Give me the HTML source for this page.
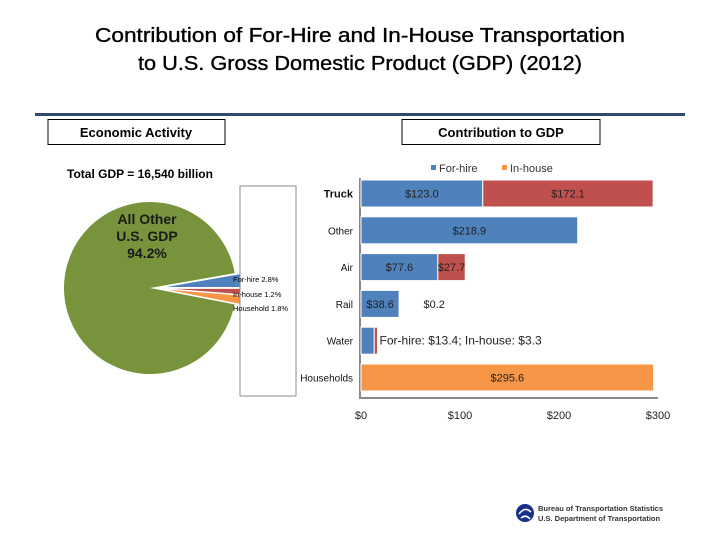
<!DOCTYPE html>
<html><head><meta charset="utf-8"><style>
html,body{margin:0;padding:0;background:#fff;}
svg{display:block;font-family:"Liberation Sans",sans-serif;}
</style></head><body>
<svg id="chart" width="720" height="540" viewBox="0 0 720 540">
  <g stroke="#000" stroke-width="0.35">
    <text x="360" y="42" text-anchor="middle" font-size="20" textLength="530" lengthAdjust="spacingAndGlyphs" fill="#000">Contribution of For-Hire and In-House Transportation</text>
    <text x="360" y="70" text-anchor="middle" font-size="20" textLength="444" lengthAdjust="spacingAndGlyphs" fill="#000">to U.S. Gross Domestic Product (GDP) (2012)</text>
  </g>
  <rect x="35" y="113" width="650" height="3" fill="#2f4a6e"/>
  <g>
    <rect x="48" y="119.5" width="177" height="25" fill="#fff" stroke="#000" stroke-width="1"/>
    <text x="136" y="137" text-anchor="middle" font-size="13" font-weight="bold">Economic Activity</text>
  </g>
  <g>
    <rect x="402" y="119.5" width="198" height="25" fill="#fff" stroke="#000" stroke-width="1"/>
    <text x="501" y="137" text-anchor="middle" font-size="13" font-weight="bold">Contribution to GDP</text>
  </g>
  <text x="140" y="178" text-anchor="middle" font-size="12" font-weight="bold">Total GDP = 16,540 billion</text>
  <g id="pie"></g>
  <rect x="240" y="186" width="56" height="210" fill="#fff" stroke="#888" stroke-width="1"/>
  <g id="pielabels">
    <text x="233" y="282" font-size="7.5">For-hire 2.8%</text>
    <text x="233" y="297" font-size="7.5">In-house 1.2%</text>
    <text x="233" y="311" font-size="7.5">Household 1.8%</text>
  </g>
  <g id="bars"></g>
  <g>
    <circle cx="525" cy="513" r="9" fill="#1a2f8a"/>
    <path d="M519 514 q6 -8 12 -2 M521 518 q5 -4 9 1" stroke="#fff" stroke-width="1.6" fill="none"/>
    <text x="538" y="511" font-size="7.5" font-weight="bold" fill="#333">Bureau of Transportation Statistics</text>
    <text x="538" y="521" font-size="7.5" font-weight="bold" fill="#333">U.S. Department of Transportation</text>
  </g>
</svg>
<script>
const NS="http://www.w3.org/2000/svg";
// pie data
const pieLabels=["All Other U.S. GDP","For-hire","In-house","Household"];
const pieValues=[94.2,2.8,1.2,1.8];
// bar data
const categories=["Truck","Other","Air","Rail","Water","Households"];
const forHire=[123.0,218.9,77.6,38.6,13.4,0];
const inHouse=[172.1,0,27.7,0.2,3.3,0];
const household=[0,0,0,0,0,295.6];
const xTicks=[0,100,200,300];
const xTickLabels=["$0","$100","$200","$300"];

function el(tag,attrs,parent){const e=document.createElementNS(NS,tag);for(const k in attrs)e.setAttribute(k,attrs[k]);parent.appendChild(e);return e;}

// Pie
const pie=document.getElementById('pie');
const cx=150,cy=288,r=86;
const pieColors=["#77933c","#4f81bd","#c0504d","#f79646"];
const total=pieValues.reduce((a,b)=>a+b,0);
const smallTotal=pieValues.slice(1).reduce((a,b)=>a+b,0);
let a0=-(smallTotal/total*360)/2 + 0.5;
const angles=[];
for(let i=1;i<pieValues.length;i++){const sw=pieValues[i]/total*360;angles[i]=[a0,a0+sw];a0+=sw;}
angles[0]=[a0,a0+pieValues[0]/total*360];
function slicePath(x,y,rr,s,e){const rad=d=>d*Math.PI/180;
  const x1=x+rr*Math.cos(rad(s)),y1=y+rr*Math.sin(rad(s)),x2=x+rr*Math.cos(rad(e)),y2=y+rr*Math.sin(rad(e));
  const large=(e-s)>180?1:0;return `M${x},${y}L${x1},${y1}A${rr},${rr} 0 ${large} 1 ${x2},${y2}Z`;}
for(let i=0;i<pieValues.length;i++){
  const [s,e]=angles[i];const mid=(s+e)/2*Math.PI/180;
  const off=i===0?0:i===1?8:5;
  const p=el('path',{d:slicePath(cx+off*Math.cos(mid)+(i?4:0),cy+off*Math.sin(mid),r,s,e),fill:pieColors[i],stroke:"#fff","stroke-width":i?1:0},pie);
  
  
}
const t=el('text',{x:147,y:224,"text-anchor":"middle","font-size":14,"font-weight":"bold",fill:"#1a1a1a"},pie);


["All Other","U.S. GDP",pieValues[0]+"%"].forEach((s,i)=>{const ts=el('tspan',{x:147,dy:i?17:0},t);ts.textContent=s;});

// Bars
const bars=document.getElementById('bars');
const x0=361,scale=0.99,rowTop=180,rowStep=36.8,barH=27;
const X=v=>x0+v*scale;
const Y=i=>rowTop+i*rowStep;
const lg=el('g',{},bars);


el('rect',{x:431,y:165,width:5,height:5,fill:"#4f81bd"},lg);
const l1=el('text',{x:439,y:172,"font-size":11,fill:"#333"},lg);l1.textContent="For-hire";
el('rect',{x:502,y:165,width:5,height:5,fill:"#f79646"},lg);
const l2=el('text',{x:510,y:172,"font-size":11,fill:"#333"},lg);l2.textContent="In-house";
const ax=el('line',{x1:x0-1,y1:178,x2:x0-1,y2:398,stroke:"#888","stroke-width":2},bars);


const bx=el('line',{x1:x0-2,y1:398,x2:X(300),y2:398,stroke:"#888","stroke-width":2},bars);


xTicks.forEach((v,i)=>{const tt=el('text',{x:X(v),y:419,"text-anchor":"middle","font-size":11,fill:"#222"},bars);tt.textContent=xTickLabels[i];
  
  });
const fmt=v=>"$"+v.toFixed(1);
categories.forEach((c,i)=>{
  const y=Y(i);
  const lab=el('text',{x:353,y:y+barH/2+4,"text-anchor":"end","font-size":i===0?11:10,"font-weight":i===0?"bold":"normal",fill:"#111"},bars);
  lab.textContent=c;
  
  
  let cur=0;
  const segs=[[forHire[i],"#4f81bd","for-hire"],[inHouse[i],"#c0504d","in-house"],[household[i],"#f79646","household"]];
  segs.forEach(([v,col,nm])=>{
    if(v<=0)return;
    const rr=el('rect',{x:X(cur),y:y,width:v*scale,height:barH,fill:col,stroke:"#fff","stroke-width":1},bars);
    
    
    if(c!=="Water"){
      let lx=X(cur+v/2);
      if(v<1){lx=X(cur)+35;}
      const vt=el('text',{x:lx,y:y+barH/2+4,"text-anchor":"middle","font-size":11,fill:"#222"},bars);
      vt.textContent=fmt(v);
      
      
    }
    cur+=v;
  });
  if(c==="Water"){
    const vt=el('text',{x:X(forHire[i]+inHouse[i])+2,y:y+barH/2+4,"font-size":12,fill:"#222"},bars);
    vt.textContent="For-hire: "+fmt(forHire[i])+"; In-house: "+fmt(inHouse[i]);
    
    
  }
});
</script>
</body></html>
